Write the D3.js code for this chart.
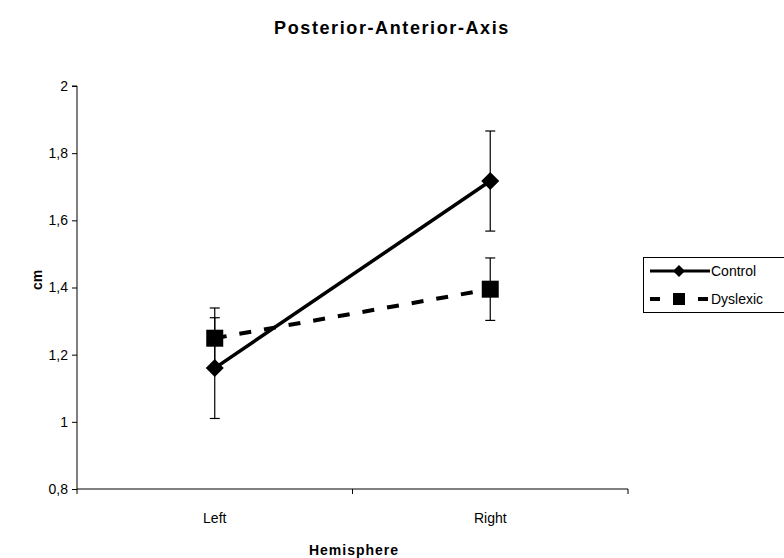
<!DOCTYPE html>
<html>
<head>
<meta charset="utf-8">
<script src="https://cdn.jsdelivr.net/npm/d3@7"></script>
<style>
  html, body { margin: 0; padding: 0; background: #fff; }
  svg { display: block; font-family: "Liberation Sans", Arial, sans-serif; }
</style>
</head>
<body>
<svg id="chart" width="784" height="558"></svg>
<script>
// Hemisphere categories and group means with their error-bar half-widths (cm)
const hemispheres = ["Left", "Right"];
const controlMeans = [1.16, 1.717];
const controlErrors = [0.15, 0.149];
const dyslexicMeans = [1.249, 1.395];
const dyslexicErrors = [0.09, 0.093];
const yTicks = [0.8, 1, 1.2, 1.4, 1.6, 1.8, 2];

const series = [
  { name: "Control", means: controlMeans, errors: controlErrors, marker: "diamond", dash: null },
  { name: "Dyslexic", means: dyslexicMeans, errors: dyslexicErrors, marker: "square", dash: "12,13" }
];

const svg = d3.select("#chart");
const plot = { left: 77, right: 628, top: 86, bottom: 489 };

const x = d3.scaleBand().domain(hemispheres).range([plot.left, plot.right]);
const y = d3.scaleLinear().domain([0.8, 2]).range([plot.bottom, plot.top]);
const cx = c => x(c) + x.bandwidth() / 2;

// Title
svg.append("text")
  .attr("x", 392).attr("y", 34)
  .attr("text-anchor", "middle")
  .attr("font-size", 18).attr("font-weight", "bold")
  .attr("letter-spacing", 1.6)
  .text("Posterior-Anterior-Axis");

// Y axis
const yAxis = d3.axisLeft(y).tickValues(yTicks).tickSize(5).tickPadding(4)
  .tickFormat(d => String(d).replace(".", ","));
const gy = svg.append("g").attr("transform", `translate(${plot.left},0)`).call(yAxis);
gy.select(".domain").attr("stroke", "#000").attr("d", `M-5,${plot.top}H0V${plot.bottom}`);
gy.selectAll(".tick line").attr("stroke", "#000");
gy.selectAll(".tick text").attr("font-size", 14).attr("fill", "#000")
  .attr("font-family", "Liberation Sans, Arial, sans-serif");

// X axis with tick marks at the band boundaries
const gx = svg.append("g").attr("transform", `translate(0,${plot.bottom})`);
gx.append("line").attr("x1", plot.left).attr("x2", plot.right)
  .attr("stroke", "#000");
const boundaries = [plot.left, ...hemispheres.map(h => x(h) + x.bandwidth())];
gx.selectAll(".xt").data(boundaries).join("line")
  .attr("x1", d => d).attr("x2", d => d).attr("y1", 0).attr("y2", 5)
  .attr("stroke", "#000");
gx.selectAll(".xl").data(hemispheres).join("text")
  .attr("x", d => cx(d)).attr("y", 34)
  .attr("text-anchor", "middle").attr("font-size", 14)
  .text(d => d);

// Axis titles
svg.append("text")
  .attr("x", 354).attr("y", 555)
  .attr("text-anchor", "middle").attr("font-size", 14).attr("font-weight", "bold")
  .attr("letter-spacing", 1)
  .text("Hemisphere");
svg.append("text")
  .attr("transform", "translate(42,280) rotate(-90)")
  .attr("text-anchor", "middle").attr("font-size", 14).attr("font-weight", "bold")
  .text("cm");

const markerPath = (type) => type === "diamond"
  ? "M0,-9L9,0L0,9L-9,0Z"
  : "M-8.5,-8.5H8.5V8.5H-8.5Z";

// Error bars
series.forEach(s => {
  const g = svg.append("g");
  s.means.forEach((m, i) => {
    const px = cx(hemispheres[i]);
    const lo = y(m - s.errors[i]), hi = y(m + s.errors[i]);
    g.append("line").attr("x1", px).attr("x2", px).attr("y1", lo).attr("y2", hi)
      .attr("stroke", "#000").attr("stroke-width", 1.2);
    [lo, hi].forEach(v => g.append("line")
      .attr("x1", px - 5).attr("x2", px + 5).attr("y1", v).attr("y2", v)
      .attr("stroke", "#000").attr("stroke-width", 1.2));
  });
});

// Lines and markers
const line = d3.line().x((d, i) => cx(hemispheres[i])).y(d => y(d));
series.slice().reverse().forEach(s => {
  svg.append("path").datum(s.means)
    .attr("d", line).attr("fill", "none").attr("stroke", "#000")
    .attr("stroke-width", s.dash ? 4 : 3.5)
    .attr("stroke-dasharray", s.dash);
  svg.selectAll(null).data(s.means).join("path")
    .attr("transform", (d, i) => `translate(${cx(hemispheres[i])},${y(d)})`)
    .attr("d", markerPath(s.marker)).attr("fill", "#000");
});

// Legend
const legend = svg.append("g");
legend.append("rect").attr("x", 643.5).attr("y", 257.5).attr("width", 160).attr("height", 55)
  .attr("fill", "#fff").attr("stroke", "#000");
series.forEach((s, i) => {
  const ly = 271 + i * 28;
  legend.append("line").attr("x1", 650).attr("x2", 710).attr("y1", ly).attr("y2", ly)
    .attr("stroke", "#000").attr("stroke-width", s.dash ? 4 : 3)
    .attr("stroke-dasharray", s.dash ? "10,14" : null);
  legend.append("path").attr("transform", `translate(679,${ly})`)
    .attr("d", s.marker === "diamond" ? "M0,-6L6,0L0,6L-6,0Z" : "M-6,-6H6V6H-6Z")
    .attr("fill", "#000");
  legend.append("text").attr("x", 711).attr("y", ly + 5)
    .attr("font-size", 14).text(s.name);
});
</script>
</body>
</html>
